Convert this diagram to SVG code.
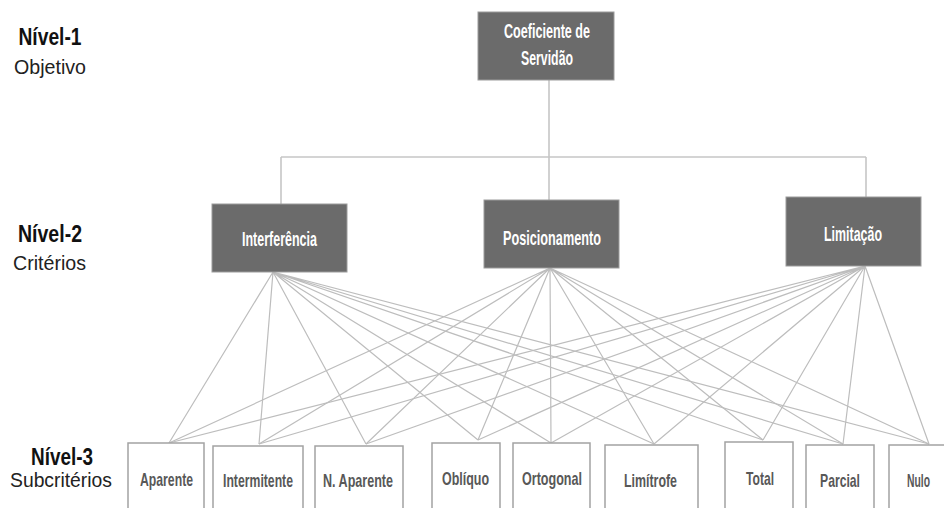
<svg xmlns="http://www.w3.org/2000/svg" width="944" height="508" viewBox="0 0 944 508">
<style>
.dk{fill:#6b6b6b;stroke:#9c9c9c;stroke-width:1}
.wt{font-family:"Liberation Sans",Arial,sans-serif;font-weight:bold;font-size:19.5px;fill:#ffffff;text-anchor:middle}
.sb{fill:#ffffff;stroke:#a3a3a3;stroke-width:1.5}
.st{font-family:"Liberation Sans",Arial,sans-serif;font-weight:bold;font-size:19px;fill:#585858;text-anchor:middle}
.lb{font-family:"Liberation Sans",Arial,sans-serif;font-weight:bold;font-size:23px;fill:#111111;text-anchor:middle}
.lr{font-family:"Liberation Sans",Arial,sans-serif;font-size:21px;fill:#222222;text-anchor:middle}
.tree{stroke:#c6c6c6;stroke-width:1.6;fill:none}
.cn{stroke:#bdbdbd;stroke-width:1.2;fill:none}
</style>
<rect width="944" height="508" fill="#ffffff"/>
<g id="labels">
<text class="lb" x="50" y="45" textLength="63" lengthAdjust="spacingAndGlyphs">Nível-1</text>
<text class="lr" x="50" y="74" textLength="72" lengthAdjust="spacingAndGlyphs">Objetivo</text>
<text class="lb" x="50" y="242" textLength="64" lengthAdjust="spacingAndGlyphs">Nível-2</text>
<text class="lr" x="49.5" y="270" textLength="73" lengthAdjust="spacingAndGlyphs">Critérios</text>
<text class="lb" x="62" y="465" textLength="62" lengthAdjust="spacingAndGlyphs">Nível-3</text>
<text class="lr" x="61" y="487" textLength="102" lengthAdjust="spacingAndGlyphs">Subcritérios</text>
</g>
<g id="connectors">
<path class="tree" d="M549,80 V157 M281,157 H866 M281,157 V204 M549,157 V200 M866,157 V197"/>
<g class="cn">
<path d="M273,272 L169,443 M273,272 L259,444 M273,272 L366,444 M273,272 L478,440 M273,272 L551,443 M273,272 L654,444 M273,272 L763,440 M273,272 L843,444 M273,272 L929,444"/>
<path d="M550,268 L169,443 M550,268 L259,444 M550,268 L366,444 M550,268 L478,440 M550,268 L551,443 M550,268 L654,444 M550,268 L763,440 M550,268 L843,444 M550,268 L929,444"/>
<path d="M865,266 L169,443 M865,266 L259,444 M865,266 L366,444 M865,266 L478,440 M865,266 L551,443 M865,266 L654,444 M865,266 L763,440 M865,266 L843,444 M865,266 L929,444"/>
</g>
</g>
<g id="coeficiente">
<rect class="dk" x="478" y="12" width="136" height="68"/>
<text class="wt" x="547" y="38" textLength="86" lengthAdjust="spacingAndGlyphs">Coeficiente de</text>
<text class="wt" x="547" y="65" textLength="52" lengthAdjust="spacingAndGlyphs">Servidão</text>
</g>
<g id="interferencia">
<rect class="dk" x="212" y="204" width="135" height="68"/>
<text class="wt" x="279.5" y="246" textLength="75" lengthAdjust="spacingAndGlyphs">Interferência</text>
</g>
<g id="posicionamento">
<rect class="dk" x="484" y="200" width="135" height="68"/>
<text class="wt" x="552" y="245" textLength="98" lengthAdjust="spacingAndGlyphs">Posicionamento</text>
</g>
<g id="limitacao">
<rect class="dk" x="786" y="197" width="135" height="69"/>
<text class="wt" x="853" y="241" textLength="58" lengthAdjust="spacingAndGlyphs">Limitação</text>
</g>
<g id="aparente">
<path class="sb" d="M128,508 V443 H204 V508"/>
<text class="st" x="166.5" y="486" textLength="53" lengthAdjust="spacingAndGlyphs">Aparente</text>
</g>
<g id="intermitente">
<path class="sb" d="M213,508 V446 H303 V508"/>
<text class="st" x="258" y="487" textLength="70" lengthAdjust="spacingAndGlyphs">Intermitente</text>
</g>
<g id="n-aparente">
<path class="sb" d="M315,508 V446 H403 V508"/>
<text class="st" x="358" y="487" textLength="70" lengthAdjust="spacingAndGlyphs">N. Aparente</text>
</g>
<g id="obliquo">
<path class="sb" d="M432,508 V443 H500 V508"/>
<text class="st" x="465.5" y="485" textLength="47" lengthAdjust="spacingAndGlyphs">Oblíquo</text>
</g>
<g id="ortogonal">
<path class="sb" d="M513,508 V443 H590 V508"/>
<text class="st" x="552" y="485" textLength="60" lengthAdjust="spacingAndGlyphs">Ortogonal</text>
</g>
<g id="limitrofe">
<path class="sb" d="M605,508 V445 H698 V508"/>
<text class="st" x="650.5" y="487" textLength="53" lengthAdjust="spacingAndGlyphs">Limítrofe</text>
</g>
<g id="total">
<path class="sb" d="M725,508 V442 H793 V508"/>
<text class="st" x="760" y="485" textLength="28" lengthAdjust="spacingAndGlyphs">Total</text>
</g>
<g id="parcial">
<path class="sb" d="M806,508 V445 H874 V508"/>
<text class="st" x="840" y="487" textLength="40" lengthAdjust="spacingAndGlyphs">Parcial</text>
</g>
<g id="nulo">
<path class="sb" d="M889,508 V445 H944"/>
<text class="st" x="918.5" y="487" textLength="23" lengthAdjust="spacingAndGlyphs">Nulo</text>
</g>
</svg>
